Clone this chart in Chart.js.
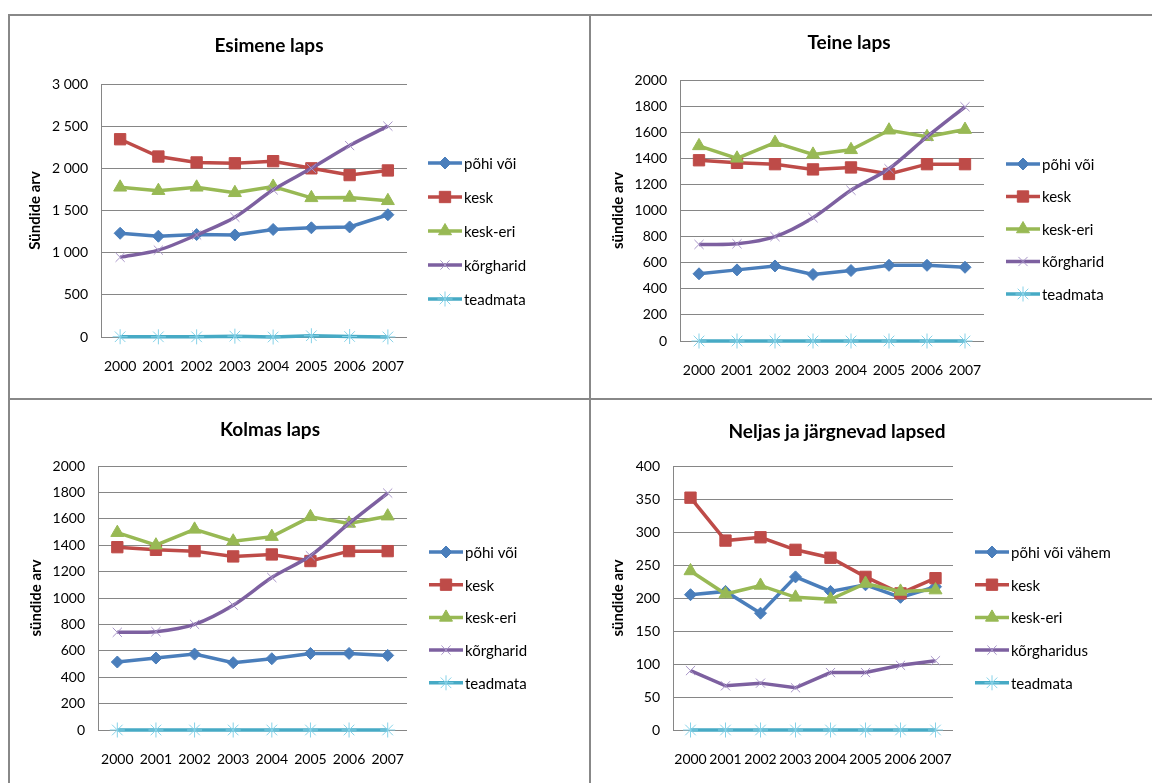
<!DOCTYPE html>
<html>
<head>
<meta charset="utf-8">
<script src="https://cdn.jsdelivr.net/npm/chart.js@4.4.0/dist/chart.umd.min.js"></script>
<style>
body { margin: 0; width: 1152px; height: 783px; background: #fff; overflow: hidden; position: relative; }
.frame { position: absolute; border-left: 2px solid #888; border-top: 2px solid #888; box-sizing: border-box; }
canvas { position: absolute; }
</style>
</head>
<body>
<div class="frame" style="left:8px;top:14px;width:583px;height:385px"></div>
<div class="frame" style="left:589px;top:14px;width:563px;height:385px"></div>
<div class="frame" style="left:8px;top:398px;width:583px;height:385px"></div>
<div class="frame" style="left:589px;top:398px;width:563px;height:385px"></div>
<canvas id="c1" width="579" height="381" style="left:10px;top:16px"></canvas>
<canvas id="c2" width="559" height="381" style="left:593px;top:16px"></canvas>
<canvas id="c3" width="579" height="382" style="left:10px;top:401px"></canvas>
<canvas id="c4" width="559" height="382" style="left:593px;top:401px"></canvas>
<script>
// categories
const years = ['2000', '2001', '2002', '2003', '2004', '2005', '2006', '2007'];
const seriesNames = ['põhi või', 'kesk', 'kesk-eri', 'kõrgharid', 'teadmata'];
const seriesNames4 = ['põhi või vähem', 'kesk', 'kesk-eri', 'kõrgharidus', 'teadmata'];

// Esimene laps
const esimenePohi = [1230, 1195, 1215, 1210, 1275, 1295, 1305, 1450];
const esimeneKesk = [2345, 2140, 2070, 2060, 2085, 2000, 1920, 1975];
const esimeneKeskEri = [1775, 1735, 1775, 1710, 1785, 1650, 1655, 1615];
const esimeneKorg = [945, 1030, 1210, 1420, 1745, 2000, 2270, 2500];
const esimeneTeadmata = [3, 2, 2, 10, 0, 15, 6, 1];

// Teine laps
const teinePohi = [515, 545, 575, 510, 540, 580, 580, 565];
const teineKesk = [1385, 1365, 1355, 1315, 1330, 1280, 1355, 1355];
const teineKeskEri = [1495, 1400, 1520, 1430, 1465, 1615, 1565, 1620];
const teineKorg = [740, 745, 800, 945, 1155, 1320, 1565, 1795];
const teineTeadmata = [0, 0, 0, 0, 0, 0, 0, 0];

// Kolmas laps
const kolmasPohi = [515, 545, 575, 510, 540, 580, 580, 565];
const kolmasKesk = [1385, 1365, 1355, 1315, 1330, 1280, 1355, 1355];
const kolmasKeskEri = [1495, 1400, 1520, 1430, 1465, 1615, 1565, 1620];
const kolmasKorg = [740, 745, 800, 945, 1155, 1320, 1565, 1795];
const kolmasTeadmata = [0, 0, 0, 0, 0, 0, 0, 0];

// Neljas ja järgnevad lapsed
const neljasPohi = [205, 210, 177, 232, 210, 220, 201, 217];
const neljasKesk = [352, 287, 292, 273, 261, 232, 207, 230];
const neljasKeskEri = [241, 206, 219, 201, 198, 222, 210, 212];
const neljasKorg = [90, 67, 71, 64, 87, 87, 98, 105];
const neljasTeadmata = [0, 0, 0, 0, 0, 0, 0, 0];

// y axis ranges
const yMax = [3000, 2000, 2000, 400];
const yStep = [500, 200, 200, 50];

// series look (Excel 2007 defaults)
const marks = [
    { color: '#4a7ebb', style: 'rectRot', r: 6, edge: '#4a7ebb', edgeW: 1 },
    { color: '#be4b48', style: 'rect', r: 8, edge: '#be4b48', edgeW: 1 },
    { color: '#98b954', style: 'triangle', r: 7.5, edge: '#98b954', edgeW: 1 },
    { color: '#7d60a0', style: 'crossRot', r: 6.5, edge: '#a895c8', edgeW: 1 },
    { color: '#46aac5', style: 'star', r: 7.5, edge: '#86d2e8', edgeW: 1 }
];

const panels = [
    { id: 'c1', title: 'Esimene laps', yTitle: 'Sündide arv', names: seriesNames, smooth: 0.3,
      data: [esimenePohi, esimeneKesk, esimeneKeskEri, esimeneKorg, esimeneTeadmata],
      pad: { left: 0, top: 68, right: 182, bottom: 20 }, yWidth: 91, yTitlePad: 16,
      titleX: 259, titleY: 30, legX: 418, legTop: 147, legStep: 34 },
    { id: 'c2', title: 'Teine laps', yTitle: 'sündide arv', names: seriesNames, smooth: 0.3,
      data: [teinePohi, teineKesk, teineKeskEri, teineKorg, teineTeadmata],
      pad: { left: 0, top: 64, right: 168, bottom: 16 }, yWidth: 87, yTitlePad: 16,
      titleX: 256, titleY: 27, legX: 413, legTop: 148, legStep: 32.5 },
    { id: 'c3', title: 'Kolmas laps', yTitle: 'sündide arv', names: seriesNames, smooth: 0.3,
      data: [kolmasPohi, kolmasKesk, kolmasKeskEri, kolmasKorg, kolmasTeadmata],
      pad: { left: 0, top: 65, right: 182, bottom: 13 }, yWidth: 88, yTitlePad: 17,
      titleX: 260, titleY: 29, legX: 419, legTop: 151, legStep: 32.7 },
    { id: 'c4', title: 'Neljas ja järgnevad lapsed', yTitle: 'sündide arv', names: seriesNames4, smooth: 0,
      data: [neljasPohi, neljasKesk, neljasKeskEri, neljasKorg, neljasTeadmata],
      pad: { left: 0, top: 65, right: 199, bottom: 13 }, yWidth: 80, yTitlePad: 16,
      titleX: 244, titleY: 31, legX: 382, legTop: 151, legStep: 32.7 }
];

function spaced(v) {
    return String(v).replace(/\B(?=(\d{3})+(?!\d))/g, ' ');
}

// title + Excel-like legend (line with marker)
const deco = {
    id: 'deco',
    afterDraw(chart, args, o) {
        const ctx = chart.ctx;
        ctx.save();
        ctx.fillStyle = '#000';
        ctx.font = 'bold 19px Lato';
        ctx.textAlign = 'center';
        ctx.textBaseline = 'middle';
        ctx.fillText(o.title, o.titleX, o.titleY);

        ctx.font = '15px Lato';
        ctx.textAlign = 'left';
        chart.data.datasets.forEach((ds, i) => {
            const y = o.legTop + i * o.legStep;
            ctx.strokeStyle = ds.borderColor;
            ctx.lineWidth = 3.5;
            ctx.beginPath();
            ctx.moveTo(o.legX, y);
            ctx.lineTo(o.legX + 34, y);
            ctx.stroke();
            ctx.fillStyle = ds.pointBackgroundColor;
            ctx.strokeStyle = ds.pointBorderColor;
            ctx.lineWidth = ds.pointBorderWidth;
            Chart.helpers.drawPoint(ctx, {
                pointStyle: ds.pointStyle, radius: ds.pointRadius, rotation: 0, borderWidth: ds.pointBorderWidth
            }, o.legX + 17, y);
            ctx.fillStyle = '#000';
            ctx.fillText(ds.label, o.legX + 36, y + 1);
        });
        ctx.restore();
    }
};

panels.forEach((p, k) => {
    const datasets = p.data.map((vals, i) => ({
        label: p.names[i],
        data: vals,
        borderColor: marks[i].color,
        backgroundColor: marks[i].color,
        borderWidth: 3.5,
        tension: i === 3 ? p.smooth : 0,
        clip: false,
        pointStyle: marks[i].style,
        pointRadius: marks[i].r,
        pointBackgroundColor: marks[i].color,
        pointBorderColor: marks[i].edge,
        pointBorderWidth: marks[i].edgeW,
        order: 4 - i
    }));

    new Chart(document.getElementById(p.id), {
        type: 'line',
        data: { labels: years, datasets: datasets },
        options: {
            responsive: false,
            animation: false,
            devicePixelRatio: 1,
            layout: { padding: p.pad },
            plugins: {
                legend: { display: false },
                tooltip: { enabled: false },
                title: { display: false },
                deco: { title: p.title, titleX: p.titleX, titleY: p.titleY, legX: p.legX, legTop: p.legTop, legStep: p.legStep }
            },
            scales: {
                x: {
                    offset: true,
                    grid: { display: false, drawTicks: false },
                    border: { display: false },
                    ticks: { color: '#000', font: { family: 'Lato', size: 14 }, padding: 21, autoSkip: false, maxRotation: 0 },
                    afterFit: (scale) => { scale.height = 40; }
                },
                y: {
                    min: 0,
                    max: yMax[k],
                    grid: { color: '#868686', lineWidth: 1, drawTicks: false },
                    border: { display: true, color: '#868686', width: 1 },
                    ticks: {
                        stepSize: yStep[k],
                        color: '#000',
                        font: { family: 'Lato', size: 14 },
                        padding: 13,
                        callback: (v) => k === 0 ? spaced(v) : String(v)
                    },
                    title: { display: true, text: p.yTitle, color: '#000', font: { family: 'Lato', size: 15, weight: 'bold' }, padding: { top: p.yTitlePad, bottom: 0 } },
                    afterFit: (scale) => { scale.width = p.yWidth; }
                }
            }
        },
        plugins: [deco]
    });
});
</script>
</body>
</html>
